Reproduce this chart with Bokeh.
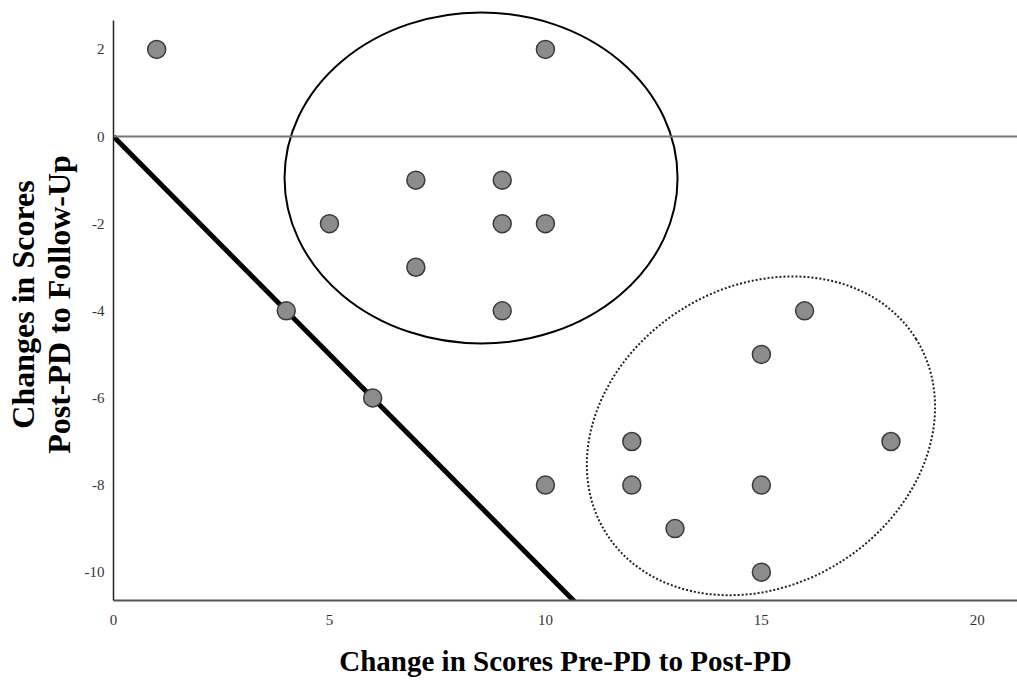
from bokeh.plotting import figure
from bokeh.models import Range1d, Span, FixedTicker, LinearAxis
from bokeh.embed import file_html
from bokeh.resources import INLINE
import math

# Data
pre_post = [1, 10, 7, 9, 5, 9, 10, 7, 4, 9, 6, 10, 16, 15, 12, 18, 12, 15, 13, 15]
post_follow = [2, 2, -1, -1, -2, -2, -2, -3, -4, -4, -6, -8, -4, -5, -7, -7, -8, -8, -9, -10]

x_ticks = [0, 5, 10, 15, 20]
y_ticks = [2, 0, -2, -4, -6, -8, -10]

# reference line y = -x
ref_x = [0, 12]
ref_y = [0, -12]

# cluster ellipses (center x, center y, width, height, angle deg)
ell1 = dict(x=8.51, y=-0.95, w=9.10, h=7.60, a=0)
ell2 = dict(x=14.99, y=-6.87, w=8.47, h=6.85, a=32)

x_title = "Change in Scores Pre-PD to Post-PD"
y_title_1 = "Changes in Scores"
y_title_2 = "Post-PD to Follow-Up"

FONT = "Liberation Serif"

p = figure(frame_width=904, frame_height=592, output_backend="svg", toolbar_location=None,
           x_range=Range1d(0, 20.93), y_range=Range1d(-10.65, 2.94),
           min_border_left=113, min_border_right=0, min_border_top=8, min_border_bottom=0)
p.outline_line_color = None
p.xgrid.grid_line_color = None
p.ygrid.grid_line_color = None
p.background_fill_color = "white"
p.border_fill_color = "white"

for ax in (p.xaxis[0], p.yaxis[0]):
    ax.major_tick_out = 0
    ax.major_tick_in = 0
    ax.minor_tick_out = 0
    ax.minor_tick_in = 0
    ax.major_label_text_font = FONT
    ax.major_label_text_font_size = "15px"
    ax.major_label_text_color = "#333333"
    ax.axis_label_text_font = FONT
    ax.axis_label_text_font_style = "bold"
    ax.axis_label_text_color = "black"

p.xaxis.axis_label_text_font_size = "29px"
p.yaxis.axis_label_text_font_size = "32px"
p.xaxis.ticker = FixedTicker(ticks=x_ticks)
p.yaxis.ticker = FixedTicker(ticks=y_ticks)
p.xaxis.major_label_overrides = {v: str(v) for v in x_ticks}
p.yaxis.major_label_overrides = {v: str(v) for v in y_ticks}
p.xaxis.axis_line_color = "#555555"
p.xaxis.axis_line_width = 2
p.yaxis.axis_line_color = "#222222"
p.yaxis.axis_line_width = 1.5
p.yaxis.bounds = (-10.65, 2.66)
p.xaxis.major_label_standoff = 14
p.yaxis.major_label_standoff = 9
p.xaxis.axis_label = x_title
p.yaxis.axis_label = y_title_2
p.xaxis.axis_label_standoff = 17
p.yaxis.axis_label_standoff = 5

# outer y-axis carrying the first title line only
outer = LinearAxis(ticker=FixedTicker(ticks=[]), axis_line_color=None,
                   major_tick_out=0, major_tick_in=0, minor_tick_out=0, minor_tick_in=0,
                   major_label_text_font_size="0px", major_label_standoff=0,
                   axis_label=y_title_1, axis_label_standoff=-3,
                   axis_label_text_font=FONT, axis_label_text_font_style="bold",
                   axis_label_text_font_size="32px", axis_label_text_color="black")
p.add_layout(outer, "left")

# horizontal zero line
p.add_layout(Span(location=0, dimension="width", line_color="#777777", line_width=2))

# ellipses
p.ellipse(x=[ell1["x"]], y=[ell1["y"]], width=[ell1["w"]], height=[ell1["h"]],
          angle=[math.radians(ell1["a"])], fill_color=None, line_color="black", line_width=2)
p.ellipse(x=[ell2["x"]], y=[ell2["y"]], width=[ell2["w"]], height=[ell2["h"]],
          angle=[math.radians(ell2["a"])], fill_color=None, line_color="#222222",
          line_width=2, line_dash="2 2")

# reference line
p.line(ref_x, ref_y, line_color="black", line_width=5)

# points
p.scatter(pre_post, post_follow, size=18, fill_color="#8e8b8b", line_color="#3a3a3a",
          line_width=1.5)

open("out.html", "w").write(file_html(p, INLINE))
